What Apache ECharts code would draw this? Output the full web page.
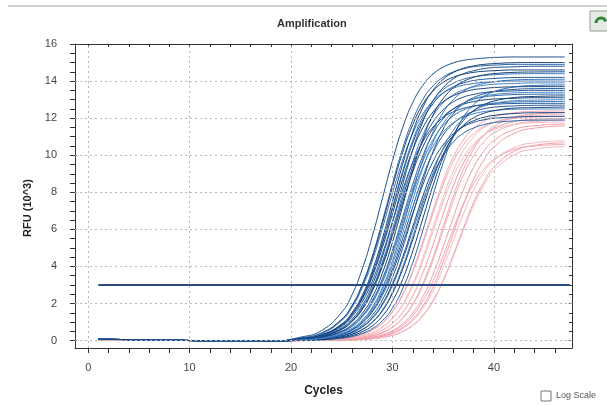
<!DOCTYPE html>
<html>
<head>
<meta charset="utf-8">
<title>Amplification</title>
<script src="https://cdn.jsdelivr.net/npm/echarts@6/dist/echarts.min.js"></script>
<style>
  html, body { margin: 0; padding: 0; background: #fff; }
  #amplification { width: 607px; height: 405px; }
</style>
</head>
<body>
<div id="amplification"></div>
<script>
var CYCLES = [1, 6, 12, 18, 21, 23, 25, 26, 27, 28, 29, 30, 31, 32, 33, 34, 35, 36, 37, 38, 39, 40, 42, 44, 47];

// blue wells (RFU x 10^3)
var B01 = [0.07, 0.04, -0.01, -0.03, 0.19, 0.54, 1.53, 2.46, 3.83, 5.60, 7.65, 9.70, 11.48, 12.84, 13.77, 14.38, 14.75, 14.98, 15.12, 15.19, 15.24, 15.27, 15.3, 15.3, 15.3];
var B02 = [0.07, 0.04, -0.01, -0.03, 0.14, 0.41, 1.16, 1.89, 3.01, 4.54, 6.44, 8.46, 10.36, 11.89, 13.01, 13.74, 14.21, 14.50, 14.66, 14.77, 14.83, 14.86, 14.9, 14.9, 14.9];
var B03 = [0.07, 0.04, -0.01, -0.03, 0.13, 0.40, 1.13, 1.85, 2.95, 4.45, 6.31, 8.29, 10.15, 11.65, 12.75, 13.46, 13.93, 14.21, 14.37, 14.47, 14.53, 14.56, 14.6, 14.6, 14.6];
var B04 = [0.07, 0.04, -0.01, -0.03, 0.10, 0.30, 0.87, 1.44, 2.32, 3.60, 5.27, 7.20, 9.13, 10.80, 12.08, 12.96, 13.54, 13.88, 14.10, 14.23, 14.30, 14.34, 14.39, 14.4, 14.4];
var B05 = [0.07, 0.04, -0.01, -0.03, 0.10, 0.30, 0.85, 1.42, 2.29, 3.55, 5.20, 7.10, 9.00, 10.65, 11.91, 12.78, 13.35, 13.69, 13.90, 14.03, 14.10, 14.14, 14.19, 14.2, 14.2];
var B06 = [0.07, 0.04, -0.01, -0.03, 0.07, 0.22, 0.64, 1.08, 1.77, 2.81, 4.24, 6.00, 7.90, 9.66, 11.09, 12.13, 12.82, 13.26, 13.52, 13.68, 13.77, 13.83, 13.87, 13.9, 13.9];
var B07 = [0.07, 0.04, -0.01, -0.03, 0.10, 0.28, 0.82, 1.37, 2.21, 3.43, 5.01, 6.85, 8.69, 10.28, 11.49, 12.33, 12.88, 13.21, 13.41, 13.54, 13.60, 13.65, 13.69, 13.7, 13.7];
var B08 = [0.07, 0.04, -0.01, -0.03, 0.07, 0.21, 0.63, 1.05, 1.71, 2.73, 4.12, 5.83, 7.67, 9.38, 10.77, 11.79, 12.45, 12.88, 13.14, 13.28, 13.38, 13.43, 13.47, 13.5, 13.5];
var B09 = [0.07, 0.04, -0.01, -0.03, 0.05, 0.16, 0.47, 0.80, 1.33, 2.14, 3.33, 4.87, 6.65, 8.43, 9.98, 11.16, 11.97, 12.50, 12.82, 13.02, 13.14, 13.21, 13.27, 13.29, 13.3];
var B10 = [0.07, 0.04, -0.01, -0.03, 0.07, 0.21, 0.61, 1.02, 1.66, 2.65, 4.00, 5.66, 7.44, 9.10, 10.45, 11.44, 12.08, 12.50, 12.75, 12.89, 12.98, 13.03, 13.07, 13.1, 13.1];
var B11 = [0.07, 0.04, -0.01, -0.03, 0.05, 0.16, 0.46, 0.78, 1.29, 2.08, 3.23, 4.72, 6.45, 8.18, 9.68, 10.82, 11.61, 12.13, 12.44, 12.63, 12.75, 12.81, 12.87, 12.89, 12.9];
var B12 = [0.07, 0.04, -0.01, -0.03, 0.04, 0.12, 0.35, 0.59, 0.99, 1.61, 2.57, 3.87, 5.49, 7.21, 8.83, 10.13, 11.09, 11.71, 12.12, 12.36, 12.50, 12.59, 12.66, 12.69, 12.7];
var B13 = [0.07, 0.04, -0.01, -0.03, 0.05, 0.15, 0.45, 0.75, 1.25, 2.01, 3.13, 4.58, 6.25, 7.93, 9.38, 10.49, 11.25, 11.75, 12.05, 12.24, 12.35, 12.41, 12.48, 12.49, 12.5];
var B14 = [0.07, 0.04, -0.01, -0.03, 0.03, 0.09, 0.26, 0.44, 0.74, 1.23, 1.98, 3.08, 4.50, 6.15, 7.80, 9.23, 10.32, 11.07, 11.56, 11.86, 12.04, 12.15, 12.25, 12.29, 12.3];
var B15 = [0.07, 0.04, -0.01, -0.03, 0.04, 0.11, 0.33, 0.56, 0.94, 1.54, 2.44, 3.69, 5.23, 6.87, 8.41, 9.66, 10.56, 11.16, 11.54, 11.77, 11.91, 11.99, 12.06, 12.09, 12.1];
var B16 = [0.07, 0.04, -0.01, -0.03, 0.03, 0.08, 0.25, 0.42, 0.72, 1.19, 1.92, 2.98, 4.36, 5.95, 7.55, 8.93, 9.98, 10.71, 11.19, 11.47, 11.65, 11.76, 11.85, 11.89, 11.9];
var B17 = [0.07, 0.04, -0.01, -0.03, 0.06, 0.18, 0.52, 0.87, 1.45, 2.33, 3.63, 5.31, 7.25, 9.19, 10.88, 12.17, 13.05, 13.63, 13.98, 14.20, 14.33, 14.40, 14.47, 14.49, 14.5];
var B18 = [0.07, 0.04, -0.01, -0.03, 0.05, 0.13, 0.38, 0.65, 1.09, 1.79, 2.85, 4.30, 6.09, 8.01, 9.80, 11.25, 12.31, 13.00, 13.45, 13.72, 13.87, 13.97, 14.06, 14.09, 14.1];
var B19 = [0.07, 0.04, -0.01, -0.03, 0.03, 0.10, 0.28, 0.48, 0.82, 1.36, 2.19, 3.40, 4.98, 6.80, 8.62, 10.20, 11.41, 12.24, 12.78, 13.11, 13.31, 13.44, 13.55, 13.59, 13.6];
var B20 = [0.07, 0.04, -0.01, -0.03, 0.02, 0.07, 0.21, 0.35, 0.60, 1.01, 1.65, 2.63, 3.97, 5.62, 7.38, 9.04, 10.37, 11.35, 11.99, 12.40, 12.65, 12.79, 12.94, 12.97, 13.0];
var B21 = [0.07, 0.04, -0.01, -0.03, 0.02, 0.07, 0.20, 0.34, 0.58, 0.98, 1.60, 2.55, 3.84, 5.44, 7.16, 8.76, 10.05, 11.00, 11.62, 12.02, 12.26, 12.40, 12.54, 12.57, 12.6];
var B22 = [0.07, 0.04, -0.01, -0.03, 0.08, 0.24, 0.69, 1.15, 1.88, 2.99, 4.51, 6.39, 8.41, 10.29, 11.81, 12.92, 13.65, 14.12, 14.40, 14.56, 14.67, 14.73, 14.77, 14.8, 14.8];
var B23 = [0.07, 0.04, -0.01, -0.03, 0.01, 0.04, 0.13, 0.22, 0.38, 0.64, 1.07, 1.75, 2.79, 4.21, 5.96, 7.84, 9.59, 11.01, 12.05, 12.72, 13.17, 13.43, 13.68, 13.76, 13.79];
var B24 = [0.07, 0.04, -0.01, -0.03, 0.02, 0.05, 0.16, 0.27, 0.47, 0.79, 1.32, 2.13, 3.30, 4.83, 6.60, 8.37, 9.90, 11.07, 11.88, 12.41, 12.72, 12.92, 13.11, 13.17, 13.2];
var B25 = [0.07, 0.04, -0.01, -0.03, 0.13, 0.38, 1.09, 1.78, 2.83, 4.27, 6.05, 7.95, 9.73, 11.17, 12.22, 12.91, 13.36, 13.62, 13.78, 13.87, 13.93, 13.96, 14.0, 14.0, 14.0];
var B26 = [0.07, 0.04, -0.01, -0.03, 0.09, 0.27, 0.77, 1.28, 2.06, 3.20, 4.68, 6.40, 8.12, 9.60, 10.74, 11.52, 12.03, 12.34, 12.53, 12.65, 12.71, 12.75, 12.79, 12.8, 12.8];
var B27 = [0.07, 0.04, -0.01, -0.03, 0.04, 0.12, 0.36, 0.62, 1.04, 1.70, 2.71, 4.09, 5.79, 7.61, 9.31, 10.69, 11.70, 12.35, 12.78, 13.04, 13.19, 13.28, 13.36, 13.39, 13.4];
var B28 = [0.07, 0.04, -0.01, -0.03, 0.11, 0.31, 0.90, 1.50, 2.42, 3.75, 5.49, 7.50, 9.51, 11.25, 12.59, 13.50, 14.10, 14.46, 14.69, 14.82, 14.90, 14.94, 14.99, 15.0, 15.0];

// pink wells
var P01 = [0.05, 0.03, -0.01, -0.03, 0.01, 0.04, 0.11, 0.20, 0.34, 0.57, 0.96, 1.57, 2.50, 3.78, 5.36, 7.04, 8.62, 9.90, 10.83, 11.43, 11.83, 12.07, 12.29, 12.36, 12.39];
var P02 = [0.05, 0.03, -0.01, -0.03, 0.01, 0.03, 0.09, 0.15, 0.25, 0.43, 0.73, 1.22, 1.96, 3.05, 4.47, 6.10, 7.73, 9.15, 10.24, 10.98, 11.47, 11.76, 12.05, 12.15, 12.19];
var P03 = [0.05, 0.03, -0.01, -0.03, 0.01, 0.02, 0.06, 0.11, 0.19, 0.33, 0.56, 0.93, 1.52, 2.42, 3.66, 5.18, 6.82, 8.34, 9.58, 10.48, 11.06, 11.45, 11.81, 11.94, 11.99];
var P04 = [0.05, 0.03, -0.01, -0.03, 0.01, 0.02, 0.05, 0.08, 0.14, 0.25, 0.42, 0.72, 1.19, 1.92, 2.98, 4.36, 5.95, 7.54, 8.93, 9.98, 10.71, 11.19, 11.65, 11.82, 11.89];
var P05 = [0.05, 0.03, -0.01, -0.03, 0.01, 0.03, 0.08, 0.14, 0.25, 0.42, 0.71, 1.18, 1.90, 2.95, 4.32, 5.90, 7.48, 8.85, 9.90, 10.62, 11.09, 11.38, 11.66, 11.75, 11.79];
var P06 = [0.05, 0.03, -0.01, -0.03, 0.00, 0.01, 0.04, 0.06, 0.11, 0.19, 0.32, 0.54, 0.91, 1.49, 2.36, 3.57, 5.05, 6.65, 8.13, 9.34, 10.21, 10.79, 11.38, 11.59, 11.68];
var P07 = [0.05, 0.03, -0.01, -0.03, 0.01, 0.02, 0.05, 0.09, 0.15, 0.26, 0.44, 0.74, 1.23, 1.98, 3.08, 4.50, 6.15, 7.80, 9.23, 10.32, 11.07, 11.56, 12.04, 12.21, 12.29];
var P08 = [0.05, 0.03, -0.01, -0.03, 0.00, 0.01, 0.03, 0.04, 0.08, 0.13, 0.22, 0.38, 0.65, 1.08, 1.74, 2.70, 3.95, 5.40, 6.85, 8.10, 9.06, 9.72, 10.41, 10.67, 10.78];
var P09 = [0.05, 0.03, -0.01, -0.03, 0.00, 0.01, 0.02, 0.03, 0.06, 0.10, 0.17, 0.29, 0.50, 0.83, 1.36, 2.16, 3.26, 4.62, 6.08, 7.44, 8.54, 9.34, 10.21, 10.53, 10.67];
var P10 = [0.05, 0.03, -0.01, -0.03, 0.00, 0.01, 0.03, 0.06, 0.10, 0.17, 0.29, 0.49, 0.82, 1.35, 2.14, 3.23, 4.58, 6.02, 7.37, 8.46, 9.25, 9.77, 10.31, 10.50, 10.58];
var P11 = [0.05, 0.03, -0.01, -0.03, 0.00, 0.01, 0.02, 0.03, 0.06, 0.10, 0.17, 0.29, 0.49, 0.81, 1.33, 2.12, 3.20, 4.54, 5.96, 7.30, 8.38, 9.17, 10.02, 10.33, 10.47];
var P12 = [0.05, 0.03, -0.01, -0.03, 0.00, 0.01, 0.03, 0.05, 0.08, 0.14, 0.24, 0.41, 0.70, 1.16, 1.87, 2.90, 4.25, 5.80, 7.35, 8.70, 9.73, 10.44, 11.18, 11.46, 11.58];
var P13 = [0.05, 0.03, -0.01, -0.03, 0.01, 0.04, 0.11, 0.19, 0.33, 0.56, 0.94, 1.54, 2.44, 3.69, 5.23, 6.87, 8.41, 9.66, 10.56, 11.16, 11.54, 11.77, 11.99, 12.06, 12.09];

var BLUE_WELLS = [B01, B02, B03, B04, B05, B06, B07, B08, B09, B10, B11, B12, B13, B14,
                  B15, B16, B17, B18, B19, B20, B21, B22, B23, B24, B25, B26, B27, B28];
var PINK_WELLS = [P01, P02, P03, P04, P05, P06, P07, P08, P09, P10, P11, P12, P13];

var THRESHOLD = 3;
var THRESHOLD_CYCLES = [1, 47.5];

// axis ticks / labels
var X_LABELS = [0, 10, 20, 30, 40];
var X_TICKS = [0, 2, 4, 6, 8, 10, 12, 14, 16, 18, 20, 22, 24, 26, 28, 30, 32, 34, 36, 38, 40, 42, 44, 46];
var Y_LABELS = [0, 2, 4, 6, 8, 10, 12, 14, 16];
var Y_TICKS = [0, 0.5, 1, 1.5, 2, 2.5, 3, 3.5, 4, 4.5, 5, 5.5, 6, 6.5, 7, 7.5, 8,
               8.5, 9, 9.5, 10, 10.5, 11, 11.5, 12, 12.5, 13, 13.5, 14, 14.5, 15, 15.5, 16];
var X_GRID = [0, 10, 20, 30, 40];
var Y_GRID = [0, 2, 4, 6, 8, 10, 12, 14];

var BLUE_COLORS = ['#1b4f8f', '#2865ab', '#143f78', '#3574b8', '#1d579b', '#4683c4', '#163f7a'];
var PINK_COLORS = ['#f4a7af', '#f7b8be', '#f19ba4'];

var FONT = '"Liberation Sans", Arial, sans-serif';

(function() {
    var myChart = echarts.init(document.getElementById('amplification'), null, { renderer: 'canvas' });

    function well(values, color) {
        return {
            type: 'line',
            data: CYCLES.map(function(c, i) { return [c, values[i]]; }),
            symbol: 'none',
            smooth: 0.5,
            lineStyle: { width: 1, color: color },
            silent: true,
            animation: false,
            z: 3
        };
    }

    var series = [];

    // dotted grid lines, drawn through the axes as mark lines
    var gridLines = [];
    X_GRID.forEach(function(v) { gridLines.push({ xAxis: v }); });
    Y_GRID.forEach(function(v) { gridLines.push({ yAxis: v }); });
    series.push({
        type: 'line',
        data: [[0, 0]],
        symbol: 'none',
        lineStyle: { opacity: 0 },
        silent: true,
        animation: false,
        z: 1,
        markLine: {
            silent: true,
            animation: false,
            symbol: ['none', 'none'],
            label: { show: false },
            lineStyle: { type: [2, 3], color: '#b8b8b8', width: 1 },
            data: gridLines
        }
    });

    PINK_WELLS.forEach(function(w, i) {
        series.push(well(w, PINK_COLORS[i % PINK_COLORS.length]));
    });
    BLUE_WELLS.forEach(function(w, i) {
        series.push(well(w, BLUE_COLORS[i % BLUE_COLORS.length]));
    });

    // threshold
    series.push({
        type: 'line',
        data: THRESHOLD_CYCLES.map(function(c) { return [c, THRESHOLD]; }),
        symbol: 'none',
        lineStyle: { width: 2, color: '#2a4b85' },
        silent: true,
        animation: false,
        z: 5
    });

    var axisLine = { show: true, onZero: false, lineStyle: { color: '#333', width: 1 } };

    var option = {
        backgroundColor: '#fff',
        animation: false,
        title: {
            text: 'Amplification',
            left: 272,
            top: 13,
            textStyle: { fontSize: 11, fontWeight: 'bold', color: '#333', fontFamily: FONT }
        },
        grid: { left: 75, right: 35, top: 44, bottom: 57 },
        xAxis: [{
            type: 'value',
            position: 'bottom',
            min: -1.3,
            max: 47.7,
            axisLine: axisLine,
            axisTick: { show: true, customValues: X_TICKS, length: 5, lineStyle: { color: '#333' } },
            axisLabel: { customValues: X_LABELS, margin: 14, color: '#444', fontSize: 11, fontFamily: FONT },
            splitLine: { show: false },
            name: 'Cycles',
            nameLocation: 'middle',
            nameGap: 37,
            nameTextStyle: { fontSize: 12, fontWeight: 'bold', color: '#222', fontFamily: FONT }
        }, {
            type: 'value',
            position: 'top',
            min: -1.3,
            max: 47.7,
            axisLine: axisLine,
            axisTick: { show: true, inside: true, customValues: X_TICKS, length: 3, lineStyle: { color: '#333' } },
            axisLabel: { show: false },
            splitLine: { show: false }
        }],
        yAxis: [{
            type: 'value',
            position: 'left',
            min: -0.4,
            max: 16,
            axisLine: axisLine,
            axisTick: { show: true, customValues: Y_TICKS, length: 5, lineStyle: { color: '#333' } },
            axisLabel: { customValues: Y_LABELS, margin: 18, color: '#444', fontSize: 11, fontFamily: FONT },
            splitLine: { show: false },
            name: 'RFU (10^3)',
            nameLocation: 'middle',
            nameGap: 41,
            nameTextStyle: { fontSize: 11, fontWeight: 'bold', color: '#222', fontFamily: FONT, padding: [0, 24, 0, 0] }
        }, {
            type: 'value',
            position: 'right',
            min: -0.4,
            max: 16,
            axisLine: axisLine,
            axisTick: { show: true, inside: true, customValues: Y_TICKS, length: 3, lineStyle: { color: '#333' } },
            axisLabel: { show: false },
            splitLine: { show: false }
        }],
        graphic: [
            { type: 'line', silent: true, shape: { x1: 8, y1: 6, x2: 607, y2: 6 }, style: { stroke: '#d0d0d0', lineWidth: 2 } },
            { type: 'rect', silent: true, shape: { x: 590, y: 11, width: 18, height: 20 }, style: { fill: '#e6ebe6', stroke: '#9a9a9a', lineWidth: 1 } },
            { type: 'arc', silent: true, shape: { cx: 601, cy: 23, r: 5, startAngle: Math.PI, endAngle: Math.PI * 1.9 }, style: { stroke: '#2f8a3c', lineWidth: 3, fill: null } },
            { type: 'rect', silent: true, shape: { x: 541, y: 391, width: 10, height: 10 }, style: { fill: '#fff', stroke: '#777', lineWidth: 1 } },
            { type: 'text', silent: true, x: 556, y: 396, style: { text: 'Log Scale', fill: '#555', font: '9px ' + FONT, verticalAlign: 'middle' } }
        ],
        series: series
    };

    myChart.setOption(option);
})();
</script>
</body>
</html>
